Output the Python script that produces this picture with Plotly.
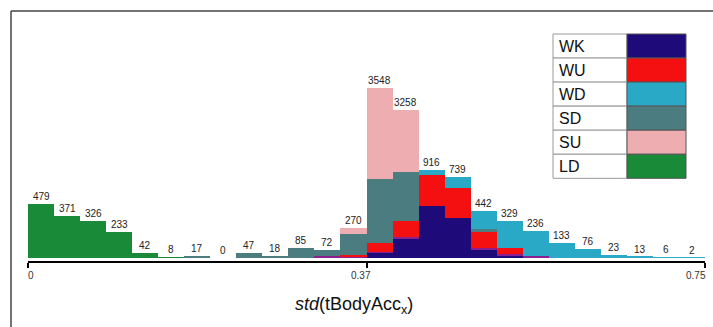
import plotly.graph_objects as go

# ---- data ----
n_bins = 26
x_max = 0.75
bin_labels = ["479", "371", "326", "233", "42", "8", "17", "0", "47", "18", "85", "72", "270",
              "3548", "3258", "916", "739", "442", "329", "236", "133", "76", "23", "13", "6", "2"]

WK  = [0]*13 + [45, 169, 458, 355, 71, 18, 0, 0, 0, 0, 0, 0, 0]
MIX = [0]*11 + [18, 15, 10, 13, 0, 0, 18, 18, 18, 0, 0, 0, 0, 0, 0]
WU  = [0]*12 + [10, 78, 142, 279, 269, 139, 56, 0, 0, 0, 0, 0, 0, 0]
SD  = [0, 0, 0, 0, 0, 0, 17, 0, 47, 18, 85, 54, 190, 568, 435, 0, 0, 27, 0, 0, 0, 0, 0, 0, 0, 0]
WD  = [0]*15 + [44, 98, 163, 237, 218, 133, 76, 23, 13, 6, 2]
SU  = [0]*12 + [55, 810, 550] + [0]*11
LD  = [479, 371, 326, 233, 42, 8] + [0]*20

series = [("WK", WK, "#1f0a7a"), ("MIX", MIX, "#8a1f8f"), ("WU", WU, "#f41010"),
          ("SD", SD, "#4a7c80"), ("WD", WD, "#29a9c6"), ("SU", SU, "#eeadb1"),
          ("LD", LD, "#188a38")]
legend_order = ["WK", "WU", "WD", "SD", "SU", "LD"]

tick_vals = [0, 0.375, 0.75]
tick_text = ["0", "0.37", "0.75"]
tick_anchor = ["left", "center", "right"]

# ---- figure ----
W, H = 713, 327
PL, PR, PT, PB = 28, 705, 20, 261
k = 0.1127  # px per unit
y0 = -(PB - 258) / k
y1 = (PB - PT) / k + y0

bw = x_max / n_bins
centers = [(i + 0.5) * bw for i in range(n_bins)]

fig = go.Figure()
for name, vals, col in series:
    fig.add_trace(go.Bar(x=centers, y=vals, width=bw, name=name, marker_color=col,
                         marker_line_width=0, showlegend=False, hoverinfo="skip"))

totals = [sum(s[1][i] for s in series) for i in range(n_bins)]

def px2x(px):
    return (px - PL) / (PR - PL)

def py2y(py):
    return (PB - py) / (PB - PT)

FONT = "Liberation Sans, Arial"
annotations = []
for c, t, lab in zip(centers, totals, bin_labels):
    annotations.append(dict(x=c, y=t, xref="x", yref="y", text=lab, showarrow=False,
                            yanchor="bottom", yshift=0,
                            font=dict(family=FONT, size=10, color="#222")))

# tick labels
shift = {"left": -2, "center": -6, "right": 3}
for v, txt, anc in zip(tick_vals, tick_text, tick_anchor):
    annotations.append(dict(x=v, y=py2y(275), xref="x", yref="paper", text=txt,
                            showarrow=False, xanchor=anc, yanchor="middle",
                            xshift=shift[anc],
                            font=dict(family=FONT, size=10, color="#333")))

annotations.append(dict(x=px2x(354), y=py2y(305), xref="paper", yref="paper",
                        text="<i>std</i>(tBodyAcc<sub>x</sub>)", showarrow=False,
                        xanchor="center", yanchor="middle",
                        font=dict(family=FONT, size=18, color="#111")))

shapes = []
# outer frame (top and left)
shapes.append(dict(type="line", xref="paper", yref="paper", x0=px2x(11), x1=px2x(714),
                   y0=py2y(11), y1=py2y(11), line=dict(color="#444", width=1.5)))
shapes.append(dict(type="line", xref="paper", yref="paper", x0=px2x(11), x1=px2x(11),
                   y0=py2y(11), y1=py2y(328), line=dict(color="#444", width=1.5)))

# legend table
colors = {n: c for n, _, c in series}
lx0, lx1, lx2 = 553, 627, 686
ly0, rh = 34, 24.05
for i, name in enumerate(legend_order):
    top = ly0 + i * rh
    bot = top + rh
    shapes.append(dict(type="rect", xref="paper", yref="paper", x0=px2x(lx0), x1=px2x(lx1),
                       y0=py2y(bot), y1=py2y(top), fillcolor="white",
                       line=dict(color="#999", width=1)))
    shapes.append(dict(type="rect", xref="paper", yref="paper", x0=px2x(lx1), x1=px2x(lx2),
                       y0=py2y(bot), y1=py2y(top), fillcolor=colors[name],
                       line=dict(color="#555", width=1)))
    annotations.append(dict(x=px2x(557), y=py2y(top + rh / 2), xref="paper", yref="paper",
                            text=name, showarrow=False, xanchor="left", yanchor="middle",
                            font=dict(family=FONT, size=16, color="#111")))

fig.update_layout(
    width=W, height=H, barmode="stack", bargap=0,
    margin=dict(l=PL, r=W - PR, t=PT, b=H - PB, pad=0),
    paper_bgcolor="white", plot_bgcolor="white",
    xaxis=dict(range=[0, x_max], tickvals=tick_vals, showticklabels=False, showgrid=False,
               zeroline=False, showline=True, linecolor="black", linewidth=1.5,
               ticks="outside", ticklen=5, tickcolor="black", tickwidth=1.5),
    yaxis=dict(range=[y0, y1], visible=False, showgrid=False, zeroline=False),
    annotations=annotations, shapes=shapes, showlegend=False,
)

fig.write_html("out.html")
